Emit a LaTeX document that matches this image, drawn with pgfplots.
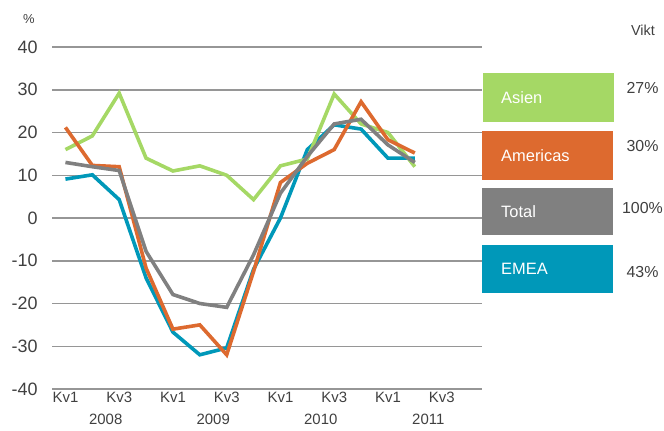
\documentclass[border=0pt]{standalone}
\usepackage{fontspec}
\setmainfont{Liberation Sans}
\usepackage{pgfplots}
\pgfplotsset{compat=1.18}
\definecolor{cgreen}{RGB}{165,216,101}
\definecolor{corange}{RGB}{221,106,47}
\definecolor{cgray}{RGB}{128,128,128}
\definecolor{cblue}{RGB}{0,152,185}
\definecolor{ctext}{RGB}{64,64,64}
\definecolor{cgrid}{RGB}{150,150,150}
\begin{document}
\begin{tikzpicture}[x=1bp,y=1bp]
\path (0,0) rectangle (664,430);
\begin{axis}[at={(52bp,41bp)}, anchor=south west, scale only axis,
  width=430bp, height=342bp,
  xmin=-0.5, xmax=15.5, ymin=-40, ymax=40,
  ytick={-40,-30,...,40},
  yticklabels={-40,-30,-20,-10,0,10,20,30,40},
  xtick={0,2,...,14},
  xticklabels={Kv1,Kv3,Kv1,Kv3,Kv1,Kv3,Kv1,Kv3},
  extra x ticks={1.5,5.5,9.5,13.5},
  extra x tick labels={2008,2009,2010,2011},
  extra x tick style={tick label style={yshift=-22bp, font=\fontsize{16.5}{18}\selectfont}},
  axis line style={draw=none}, major tick length=0,
  ymajorgrids, grid style={cgrid, line width=1.5bp},
  yticklabel style={font=\fontsize{18}{20}\selectfont, text=ctext, xshift=-11bp},
  xticklabel style={font=\fontsize{15}{17}\selectfont, text=ctext},
  clip=false,
  every axis plot/.append style={line width=3.6bp, mark=none, line join=miter},
]
\addplot[cblue] coordinates {(0,9.1) (1,10.1) (2,4.3) (3,-14) (4,-26.7) (5,-32) (6,-30.4) (7,-12) (8,0) (9,16) (10,21.8) (11,20.8) (12,14) (13,14)};
\addplot[cgreen] coordinates {(0,16) (1,19.2) (2,29.2) (3,14) (4,11) (5,12.2) (6,10) (7,4.3) (8,12.2) (9,13.8) (10,29) (11,22) (12,20) (13,12)};
\addplot[corange] coordinates {(0,21.2) (1,12.3) (2,12) (3,-11.7) (4,-26) (5,-25) (6,-32) (7,-12.5) (8,8.3) (9,12.8) (10,16) (11,27.2) (12,18.3) (13,15.2)};
\addplot[cgray] coordinates {(0,13) (1,12) (2,11.1) (3,-7.8) (4,-17.9) (5,-20) (6,-20.9) (7,-8.6) (8,5.8) (9,14.4) (10,22) (11,23.1) (12,17.1) (13,13)};
\end{axis}
% legend boxes (pixel layout: y from top -> 430-y)
\fill[cgreen]  (483,308) rectangle (614,357);
\fill[corange] (482,250) rectangle (613,299);
\fill[cgray]   (482,195) rectangle (613,242);
\fill[cblue]   (482,137) rectangle (613,185);
\begin{scope}[every node/.style={text=white, anchor=west, inner sep=0pt, font=\fontsize{16.5}{18}\selectfont}]
\node at (501,332.5) {Asien};
\node at (501,274.5) {Americas};
\node at (501,218.5) {Total};
\node at (501,161) {EMEA};
\end{scope}
\begin{scope}[every node/.style={text=ctext, inner sep=0pt, font=\fontsize{16}{18}\selectfont}]
\node[font=\fontsize{14.5}{16}\selectfont] at (643,400) {Vikt};
\node at (642.5,342) {27\%};
\node at (642.5,284) {30\%};
\node at (642.5,222) {100\%};
\node at (642.5,158) {43\%};
\end{scope}
\node[text=ctext, inner sep=0pt, font=\fontsize{13}{15}\selectfont] at (29,411) {\%};
\end{tikzpicture}
\end{document}
